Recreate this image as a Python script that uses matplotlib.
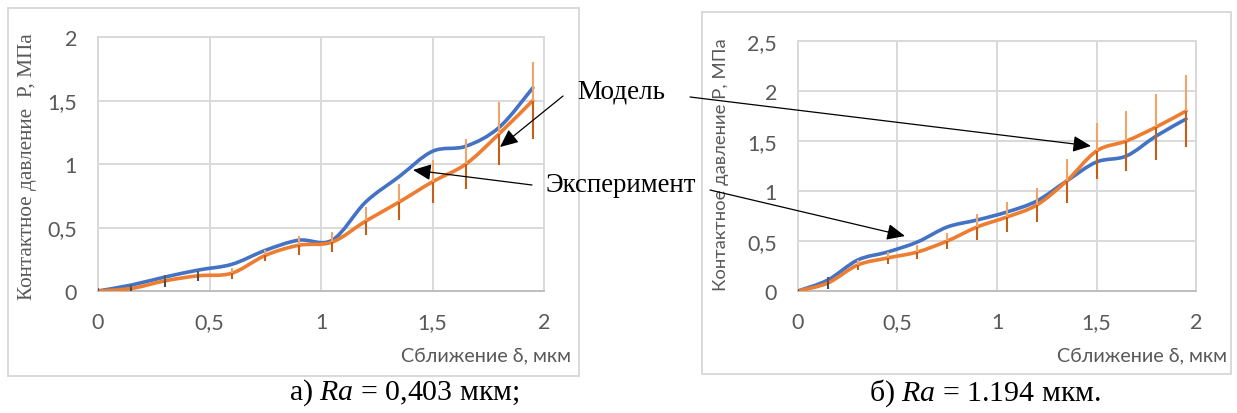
import numpy as np
import matplotlib
matplotlib.use("Agg")
import matplotlib.pyplot as plt
from matplotlib.path import Path
from matplotlib.patches import PathPatch, Rectangle, FancyArrowPatch
from matplotlib.ticker import FuncFormatter

# ---------------- data ----------------
x_vals = [0, 0.15, 0.3, 0.45, 0.6, 0.75, 0.9, 1.05, 1.2, 1.35, 1.5, 1.65, 1.8, 1.95]

# chart a) Ra = 0,403
model_a = [0, 0.047, 0.11, 0.165, 0.21, 0.32, 0.40, 0.40, 0.70, 0.90, 1.10, 1.14, 1.29, 1.60]
exper_a = [0, 0.02, 0.08, 0.12, 0.14, 0.28, 0.36, 0.385, 0.55, 0.70, 0.86, 1.0, 1.24, 1.50]
err_a = [0.025, 0.03, 0.045, 0.04, 0.045, 0.045, 0.075, 0.08, 0.11, 0.14, 0.17, 0.20, 0.25, 0.30]

# chart б) Ra = 1.194
model_b = [0, 0.11, 0.31, 0.39, 0.49, 0.64, 0.71, 0.79, 0.90, 1.10, 1.29, 1.35, 1.55, 1.72]
exper_b = [0, 0.08, 0.26, 0.33, 0.39, 0.50, 0.64, 0.74, 0.86, 1.10, 1.40, 1.50, 1.64, 1.80]
err_b = [0.02, 0.06, 0.05, 0.06, 0.07, 0.08, 0.13, 0.15, 0.17, 0.22, 0.28, 0.30, 0.33, 0.36]

x_ticks = [0, 0.5, 1, 1.5, 2]
y_ticks_a = [0, 0.5, 1, 1.5, 2]
y_ticks_b = [0, 0.5, 1, 1.5, 2, 2.5]

ylabel_a = "Контактное давление  P, МПа"
ylabel_b = "Контактное давление Р, МПа"
xlabel = "Сближение δ, мкм"
caption_a = ("а) ", "Ra", " = 0,403 мкм;")
caption_b = ("б) ", "Ra", " = 1.194 мкм.")
label_model = "Модель"
label_exp = "Эксперимент"

BLUE = "#4472C4"
ORANGE = "#ED7D31"
GRID = "#D9D9D9"
TXT = "#595959"
SANS = ["Lato", "DejaVu Sans"]
SERIF = ["Liberation Serif", "DejaVu Serif"]

plt.rcParams["mathtext.fontset"] = "custom"
plt.rcParams["mathtext.it"] = "Liberation Serif:italic"
plt.rcParams["mathtext.rm"] = "Liberation Serif"

W, H = 1237, 414
fig = plt.figure(figsize=(W / 100, H / 100), dpi=100)
fig.patch.set_facecolor("white")


def fx(px):
    return px / W


def fy(py):
    return 1 - py / H


def smooth_path(xs, ys):
    xs = np.asarray(xs, float)
    ys = np.asarray(ys, float)
    pts = np.column_stack([xs, ys])
    n = len(pts)
    verts = [pts[0]]
    codes = [Path.MOVETO]
    for i in range(n - 1):
        p0 = pts[i - 1] if i > 0 else pts[i]
        p1 = pts[i]
        p2 = pts[i + 1]
        p3 = pts[i + 2] if i + 2 < n else pts[i + 1]
        c1 = p1 + (p2 - p0) / 6.0
        c2 = p2 - (p3 - p1) / 6.0
        verts += [c1, c2, p2]
        codes += [Path.CURVE4] * 3
    return Path(verts, codes)


def fmt(v, pos):
    return ("%g" % v).replace(".", ",")


def make_axes(rect, yticks, model, exper, err, ylim, n_dark):
    ax = fig.add_axes(rect)
    ax.set_xlim(0, 2)
    ax.set_ylim(*ylim)
    ax.set_xticks(x_ticks)
    ax.set_yticks(yticks)
    ax.xaxis.set_major_formatter(FuncFormatter(fmt))
    ax.yaxis.set_major_formatter(FuncFormatter(fmt))
    ax.grid(True, color=GRID, lw=1.4, zorder=0)
    ax.set_axisbelow(True)
    for s in ["left", "top", "right"]:
        ax.spines[s].set_color(GRID)
        ax.spines[s].set_linewidth(1.4)
    ax.spines["bottom"].set_color("#BFBFBF")
    ax.spines["bottom"].set_linewidth(1.4)
    ax.tick_params(length=0, labelsize=15.5, labelcolor=TXT, pad=15)
    for lab in ax.get_xticklabels() + ax.get_yticklabels():
        lab.set_family(SANS)

    ax.add_patch(PathPatch(smooth_path(x_vals, model), fill=False, ec=BLUE,
                           lw=2.6, capstyle="round", joinstyle="round", zorder=3))
    ax.add_patch(PathPatch(smooth_path(x_vals, exper), fill=False, ec=ORANGE,
                           lw=2.6, capstyle="round", joinstyle="round", zorder=4))
    xv = np.array(x_vals)
    ev = np.array(exper)
    er = np.array(err)
    up_col = ["#5A5A5A" if i < n_dark else "#F2A468" for i in range(len(xv))]
    lo_col = ["#4A4A4A" if i < n_dark else "#C75E17" for i in range(len(xv))]
    ax.vlines(xv, ev, ev + er, colors=up_col, lw=1.5, zorder=5)
    ax.vlines(xv, ev - er, ev, colors=lo_col, lw=1.5, zorder=5)
    return ax


ax_a = make_axes([fx(98), fy(292), fx(544) - fx(98), fy(38) - fy(292)],
                 y_ticks_a, model_a, exper_a, err_a, (0, 2), 4)
ax_b = make_axes([fx(798), fy(292), fx(1196) - fx(798), fy(42) - fy(292)],
                 y_ticks_b, model_b, exper_b, err_b, (0, 2.5), 2)

# chart borders
for (x0, y0, x1, y1) in [(8, 9, 579, 377), (702, 13, 1231, 375)]:
    fig.add_artist(Rectangle((fx(x0), fy(y1)), fx(x1) - fx(x0), fy(y0) - fy(y1),
                             transform=fig.transFigure, fill=False,
                             ec=GRID, lw=1.4, zorder=-1))

# axis titles
fig.text(fx(28), fy(167), ylabel_a, rotation=90, ha="center", va="center",
         family=SERIF, fontsize=15.3, color=TXT)
fig.text(fx(721), fy(165), ylabel_b, rotation=90, ha="center", va="center",
         family=SANS, fontsize=13.3, color=TXT)
fig.text(fx(571), fy(356), xlabel, ha="right", va="center",
         family=SANS, fontsize=14.2, color=TXT)
fig.text(fx(1227), fy(356), xlabel, ha="right", va="center",
         family=SANS, fontsize=14.2, color=TXT)


def caption(parts, cx, cy):
    return fig.text(fx(cx), fy(cy),
                    parts[0] + r"$\mathit{" + parts[1] + "}$" + parts[2],
                    ha="center", va="center", family=SERIF, fontsize=21.5,
                    color="black")


caption(caption_a, 404, 393)
caption(caption_b, 985, 393)

# annotation labels
fig.text(fx(621), fy(92), label_model, ha="center", va="center",
         family=SERIF, fontsize=19.5, color="black")
fig.text(fx(620.5), fy(186), label_exp, ha="center", va="center",
         family=SERIF, fontsize=19.3, color="black")

arrows = [((563, 97), (500, 148)), ((690, 98), (1091, 147)),
          ((532, 186), (413, 171)), ((710, 191), (905, 237))]
for (s, e) in arrows:
    fig.add_artist(FancyArrowPatch((fx(s[0]), fy(s[1])), (fx(e[0]), fy(e[1])),
                                   transform=fig.transFigure,
                                   arrowstyle="-|>,head_length=1.0,head_width=0.45",
                                   mutation_scale=11, color="black", lw=0.9,
                                   shrinkA=0, shrinkB=0, zorder=10))

fig.savefig("out.png", dpi=100)
